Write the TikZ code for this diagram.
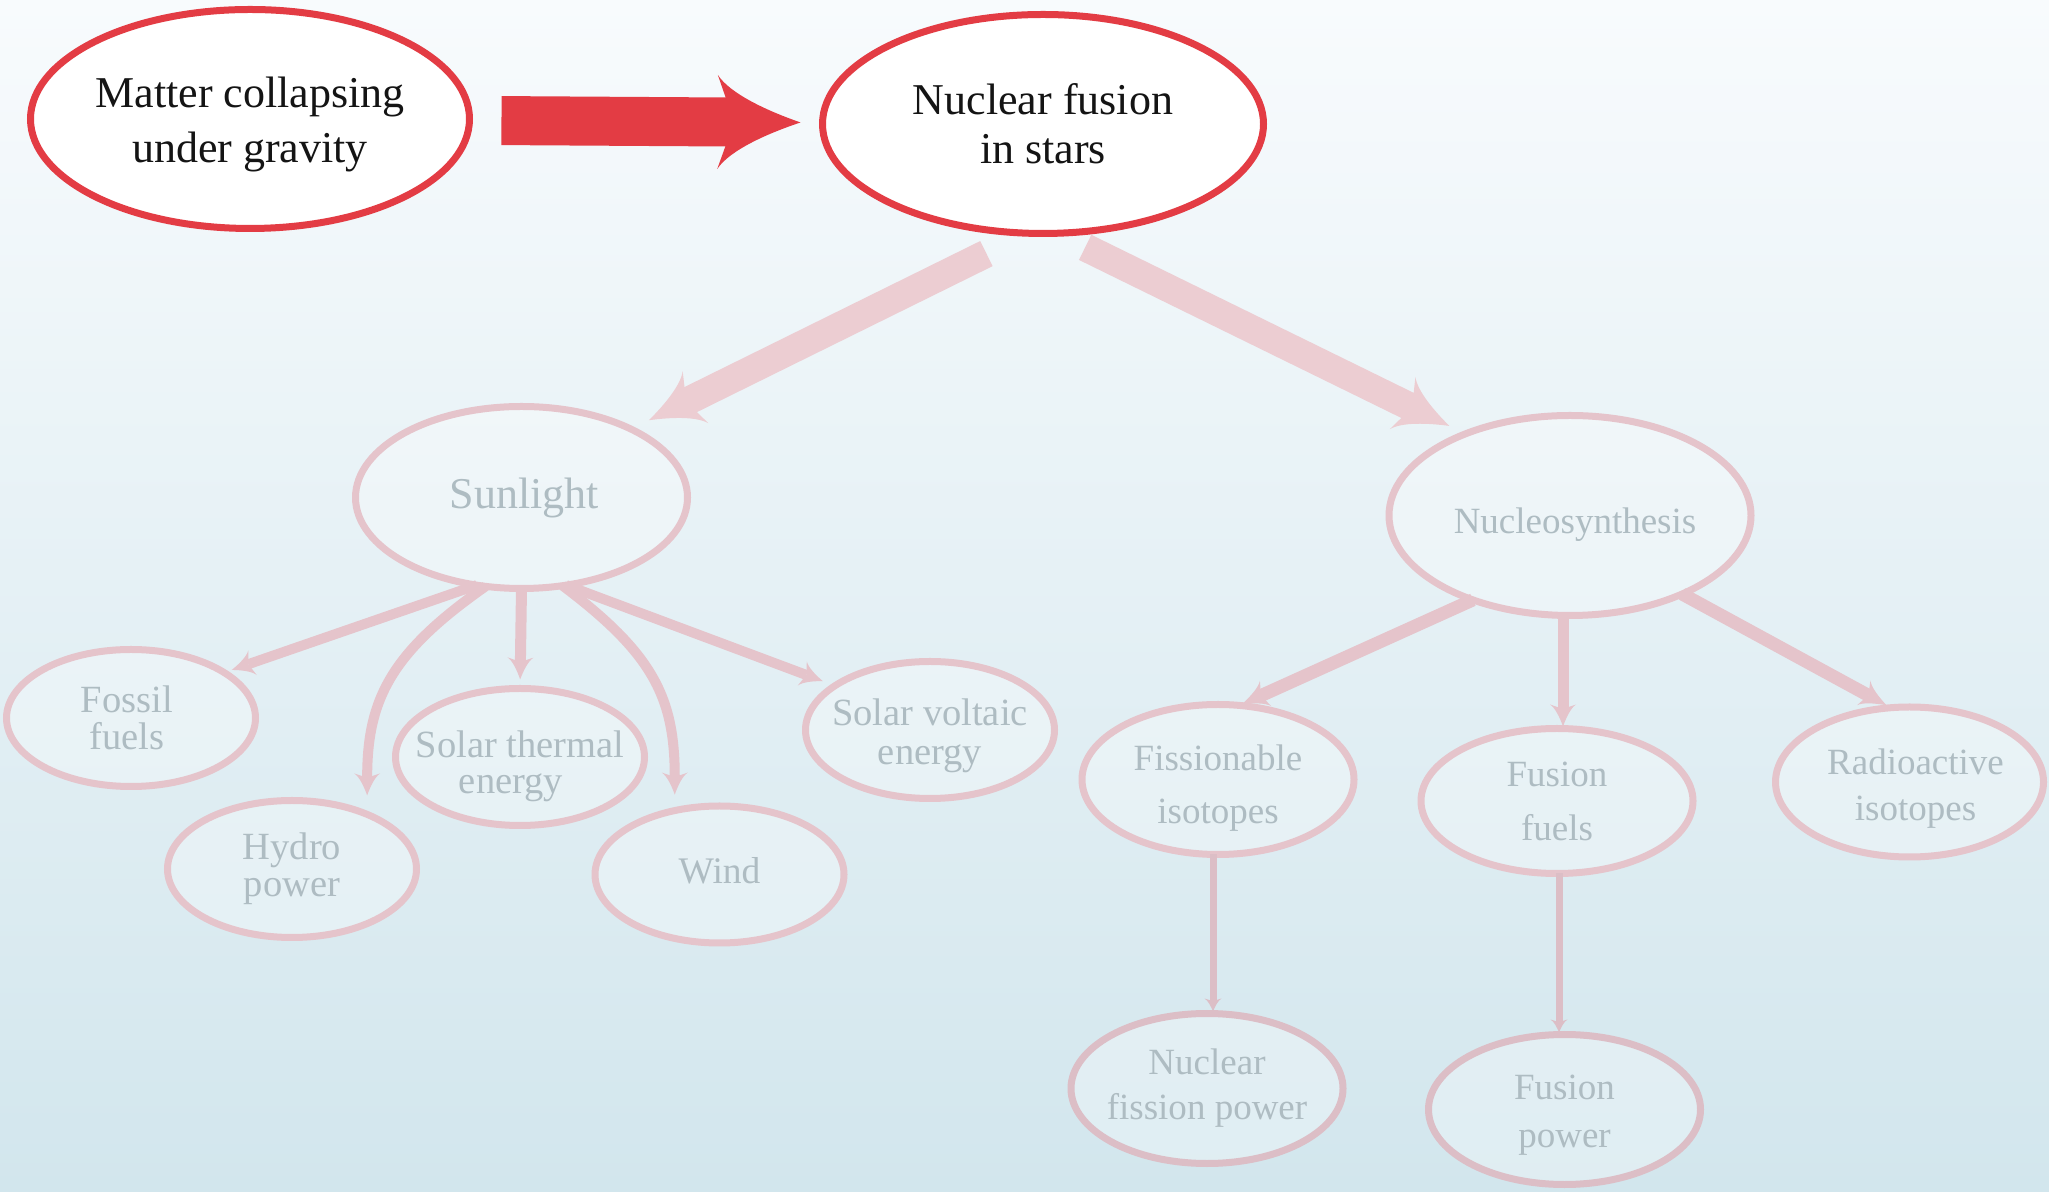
\documentclass[tikz,border=0pt]{standalone}
\usepackage{fontspec}
\setmainfont{Liberation Serif}
\usetikzlibrary{arrows.meta,shapes.geometric}

% Arrow head with concave, swept-back sides
\pgfdeclarearrow{
  name = Swoop,
  defaults = {length = +20pt, width = +20pt},
  parameters = {\the\pgfarrowlength,\the\pgfarrowwidth},
  setup code = {
    \pgfarrowssettipend{\pgfarrowlength}
    \pgfarrowssetlineend{.2\pgfarrowlength}
    \pgfarrowssetbackend{0pt}
    \pgfarrowshullpoint{\pgfarrowlength}{0pt}
    \pgfarrowshullpoint{0pt}{.5\pgfarrowwidth}
    \pgfarrowshullpoint{0pt}{-.5\pgfarrowwidth}
    \pgfarrowssavethe\pgfarrowlength
    \pgfarrowssavethe\pgfarrowwidth
  },
  drawing code = {
    \pgfpathmoveto{\pgfqpoint{\pgfarrowlength}{0pt}}
    \pgfpathcurveto{\pgfqpoint{.6\pgfarrowlength}{.12\pgfarrowwidth}}
                   {\pgfqpoint{.15\pgfarrowlength}{.3\pgfarrowwidth}}
                   {\pgfqpoint{0pt}{.5\pgfarrowwidth}}
    \pgfpathlineto{\pgfqpoint{.2\pgfarrowlength}{0pt}}
    \pgfpathlineto{\pgfqpoint{0pt}{-.5\pgfarrowwidth}}
    \pgfpathcurveto{\pgfqpoint{.15\pgfarrowlength}{-.3\pgfarrowwidth}}
                   {\pgfqpoint{.6\pgfarrowlength}{-.12\pgfarrowwidth}}
                   {\pgfqpoint{\pgfarrowlength}{0pt}}
    \pgfpathclose
    \pgfusepathqfill
  }
}

\definecolor{bgtop}{RGB}{248,251,253}
\definecolor{bgmid}{RGB}{229,241,245}
\definecolor{bgbot}{RGB}{210,230,237}
\definecolor{firered}{RGB}{227,60,68}
\definecolor{pinkA}{RGB}{236,205,210}
\definecolor{pinkB}{RGB}{229,196,203}
\definecolor{pinkC}{RGB}{220,190,198}
\definecolor{mist}{RGB}{174,188,194}

\begin{document}
\begin{tikzpicture}[
  x=1pt, y=1pt,
  txt/.style={align=center, text=mist, text opacity=1, fill opacity=1,
    inner sep=0pt, outer sep=0pt},
  dark/.style={txt, text=black!92},
  hot/.style={ellipse, draw=firered, line width=7pt, fill=white,
    inner sep=0pt, outer sep=0pt},
  pale/.style={ellipse, draw=pinkB, line width=7pt, fill=white,
    fill opacity=0.3, inner sep=0pt, outer sep=0pt},
  small/.style={pale, minimum width=249pt, minimum height=137pt},
  wide/.style={pale, minimum width=272pt, minimum height=150pt},
  redflow/.style={line width=49pt, draw=firered,
    -{Swoop[length=83pt,width=94pt]}},
  bigflow/.style={line width=28pt, draw=pinkA,
    -{Swoop[length=52pt,width=58pt]}},
  flow/.style={line width=10pt, draw=pinkB,
    -{Swoop[length=22pt,width=26pt]}},
  midflow/.style={line width=13pt, draw=pinkB,
    -{Swoop[length=26pt,width=28pt]}},
  thinflow/.style={line width=7pt, draw=pinkC,
    -{Swoop[length=13pt,width=17pt]}},
]
\useasboundingbox (0,0) rectangle (2049,1191);
\shade[top color=bgtop, middle color=bgmid, bottom color=bgbot]
  (0,0) rectangle (2049,1191);

% top row
\node[hot, minimum width=439pt, minimum height=219pt,
  label={[dark, yshift=-5pt, font=\fontsize{44}{55}\selectfont]center:{Matter collapsing\\under gravity}}]
  (mat) at (250,1072) {};
\node[hot, minimum width=441pt, minimum height=219pt,
  label={[dark, font=\fontsize{44}{49}\selectfont]center:{Nuclear fusion\\in stars}}]
  (nf) at (1043,1067) {};

% second row
\node[pale, minimum width=332pt, minimum height=182pt,
  label={[txt, xshift=3pt, font=\fontsize{44}{50}\selectfont]center:Sunlight}]
  (sun) at (521.5,693.5) {};
\node[pale, minimum width=362pt, minimum height=200pt,
  label={[txt, xshift=5pt, yshift=-9pt, font=\fontsize{37}{44}\selectfont]center:Nucleosynthesis}]
  (nuc) at (1570,675.5) {};

% forms of solar energy
\node[small, label={[txt, xshift=-4pt, font=\fontsize{38.5}{37}\selectfont]center:{Fossil\\fuels}}]
  (fos) at (131,473) {};
\node[small, label={[txt, font=\fontsize{38.5}{37}\selectfont]center:{Hydro\\power}}]
  (hyd) at (292,322) {};
\node[small, label={[txt, yshift=-9pt, font=\fontsize{38.5}{36}\selectfont]center:{Solar thermal\\energy\hspace*{18pt}}}]
  (sth) at (520,434) {};
\node[small, label={[txt, yshift=4pt, font=\fontsize{37.5}{40}\selectfont]center:Wind}]
  (wind) at (719.5,316.5) {};
\node[small, label={[txt, yshift=-6pt, font=\fontsize{38.5}{39}\selectfont]center:{Solar voltaic\\energy}}]
  (svo) at (930,461) {};

% products of nucleosynthesis
\node[wide, label={[txt, yshift=-9pt, font=\fontsize{37}{53}\selectfont]center:{Fissionable\\isotopes}}]
  (fis) at (1218,411.5) {};
\node[wide, minimum height=145pt,
  label={[txt, font=\fontsize{37}{54}\selectfont]center:{Fusion\\fuels}}]
  (ffu) at (1557,390) {};
\node[wide, minimum width=268pt,
  label={[txt, xshift=6pt, yshift=-7pt, font=\fontsize{37}{46}\selectfont]center:{Radioactive\\isotopes}}]
  (rad) at (1909.5,409) {};
\node[wide, draw=pinkC,
  label={[txt, font=\fontsize{37}{45}\selectfont]center:{Nuclear\\fission power}}]
  (nfp) at (1207,102.5) {};
\node[wide, draw=pinkC,
  label={[txt, yshift=-6pt, font=\fontsize{37}{48}\selectfont]center:{Fusion\\power}}]
  (fpw) at (1564.5,81.5) {};

% connectors
\draw[redflow, shorten <=32pt, shorten >=22pt] (mat) -- (nf);
\draw[bigflow, shorten <=46pt, shorten >=20pt] (nf.262) -- (sun.32);
\draw[bigflow, shorten <=32pt, shorten >=18pt] (nf.277) -- (nuc.142);

\draw[flow, shorten >=8pt] (sun.243) -- (fos.26);
\draw[flow, shorten >=19pt] (sun.248) to[out=215, in=90, looseness=1.15] (hyd.36);
\draw[flow, line width=11pt, shorten >=9pt] (sun.south) -- (sth.north);
\draw[flow, shorten >=16pt] (sun.295) to[out=-37, in=90, looseness=1.15] (wind.125);
\draw[flow, shorten >=13pt] (sun.297) -- (svo.155);

\draw[midflow, shorten >=3pt] (nuc.221) -- (fis.74);
\draw[flow, line width=11pt, shorten >=2pt] ([xshift=-7pt]nuc.south) -- ([xshift=6pt]ffu.north);
\draw[midflow, shorten >=5pt] (nuc.325) -- (rad.104);

\draw[thinflow, shorten >=2pt] ([xshift=-5pt]fis.south) -- ([xshift=6pt]nfp.north);
\draw[thinflow, shorten >=2pt] ([xshift=2pt]ffu.south) -- ([xshift=-5.5pt]fpw.north);
\end{tikzpicture}
\end{document}
